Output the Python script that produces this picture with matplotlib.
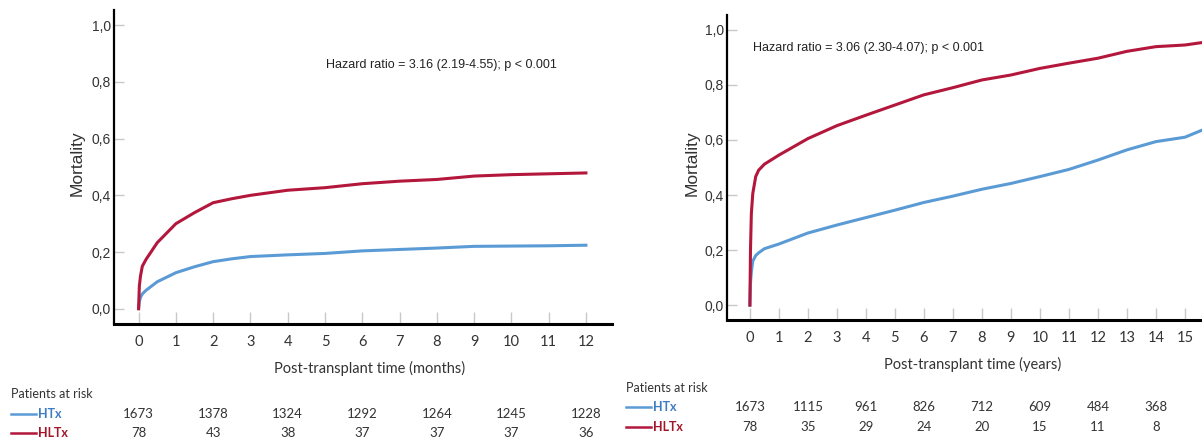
import matplotlib.pyplot as plt

W, H = 1202, 443

# months panel (first year)
months = [0, 0.02, 0.05, 0.1, 0.2, 0.5, 1, 1.5, 2, 2.5, 3, 4, 5, 6, 7, 8, 9, 10, 11, 12]
htx_month = [0, 0.025, 0.04, 0.052, 0.065, 0.095, 0.127, 0.148, 0.166, 0.176, 0.184, 0.19,
             0.195, 0.204, 0.209, 0.214, 0.22, 0.221, 0.222, 0.224]
hltx_month = [0, 0.08, 0.115, 0.15, 0.174, 0.233, 0.3, 0.339, 0.374, 0.388, 0.4, 0.418,
              0.427, 0.441, 0.45, 0.456, 0.468, 0.473, 0.476, 0.479]

# years panel
years = [0, 0.02, 0.05, 0.1, 0.2, 0.3, 0.5, 1, 1.5, 2, 3, 4, 5, 6, 7, 8, 9, 10, 11, 12,
         13, 14, 15, 15.6, 16]
htx_year = [0, 0.08, 0.12, 0.16, 0.18, 0.19, 0.205, 0.222, 0.242, 0.262, 0.291, 0.318, 0.345,
            0.373, 0.396, 0.421, 0.442, 0.467, 0.493, 0.527, 0.564, 0.594, 0.61, 0.636, 0.65]
hltx_year = [0, 0.2, 0.333, 0.406, 0.467, 0.49, 0.512, 0.545, 0.575, 0.605, 0.652, 0.69,
             0.727, 0.764, 0.79, 0.818, 0.836, 0.86, 0.879, 0.897, 0.922, 0.939, 0.945,
             0.954, 0.96]

risk_month_t = [0, 2, 4, 6, 8, 10, 12]
risk_month_htx = [1673, 1378, 1324, 1292, 1264, 1245, 1228]
risk_month_hltx = [78, 43, 38, 37, 37, 37, 36]

risk_year_t = [0, 2, 4, 6, 8, 10, 12, 14]
risk_year_htx = [1673, 1115, 961, 826, 712, 609, 484, 368]
risk_year_hltx = [78, 35, 29, 24, 20, 15, 11, 8]

hr_month = "Hazard ratio = 3.16 (2.19-4.55); p < 0.001"
hr_year = "Hazard ratio = 3.06 (2.30-4.07); p < 0.001"

BLUE = "#5b9bd5"
RED = "#b3173c"
BLUE_TXT = "#3d7cc4"
RED_TXT = "#a3162a"
ARIAL = "Liberation Sans"
CALIB = "Lato"


def fx(x):
    return x / W


def fy(y):
    return 1 - y / H


fig = plt.figure(figsize=(W / 100, H / 100), dpi=100)


def setup_axis(ax, xlim, xticks):
    ax.set_xlim(*xlim)
    ax.set_ylim(-0.054, 1.054)
    for s in ["top", "right"]:
        ax.spines[s].set_visible(False)
    ax.spines["left"].set_linewidth(1.6)
    ax.spines["bottom"].set_linewidth(2.2)
    ax.set_xticks(xticks)
    ax.set_yticks([0, 0.2, 0.4, 0.6, 0.8, 1.0])
    ax.set_yticklabels(["0,0", "0,2", "0,4", "0,6", "0,8", "1,0"])
    ax.tick_params(axis="y", direction="in", length=7, width=1, color="#c8c8c8",
                   pad=2, labelsize=10, labelcolor="#333333")
    ax.tick_params(axis="x", direction="in", length=9, width=1, color="#c8c8c8",
                   pad=8, labelsize=10.5, labelcolor="#333333")
    for lab in ax.get_yticklabels():
        lab.set_family(ARIAL)
    for lab in ax.get_xticklabels():
        lab.set_family(CALIB)


# left panel: months
ax1 = fig.add_axes([fx(114), fy(324), fx(612 - 114), (324 - 10) / H])
ax1.plot(months, htx_month, color=BLUE, lw=2.2)
ax1.plot(months, hltx_month, color=RED, lw=2.2)
setup_axis(ax1, (-0.66, 12.7), range(0, 13))

# right panel: years (runs past the right edge of the picture)
ax2 = fig.add_axes([fx(726.7), fy(320), fx(20.8 * 29), (320 - 15) / H])
ax2.plot(years, htx_year, color=BLUE, lw=2.2)
ax2.plot(years, hltx_year, color=RED, lw=2.2)
setup_axis(ax2, (-0.8, 20.0), range(0, 16))

# labels
fig.text(fx(77), fy(163), "Mortality", rotation=90, ha="center", va="center",
         fontsize=12.5, family=ARIAL, color="#333333")
fig.text(fx(692), fy(163), "Mortality", rotation=90, ha="center", va="center",
         fontsize=12.5, family=ARIAL, color="#333333")
fig.text(fx(370), fy(368), "Post-transplant time (months)", ha="center", va="center",
         fontsize=10.5, family=CALIB, color="#333333")
fig.text(fx(973), fy(364), "Post-transplant time (years)", ha="center", va="center",
         fontsize=10.5, family=CALIB, color="#333333")
fig.text(fx(326), fy(65), hr_month, ha="left", va="center", fontsize=9,
         family=ARIAL, color="#222222")
fig.text(fx(753), fy(48), hr_year, ha="left", va="center", fontsize=9,
         family=ARIAL, color="#222222")


# patients at risk tables
def risk_table(ax, x0, ys, t, htx, hltx):
    y_head, y_htx, y_hltx = ys
    fig.text(fx(x0), fy(y_head), "Patients at risk", ha="left", va="center",
             fontsize=9, family=CALIB, color="#333333")
    for y, name, c_line, c_txt in [(y_htx, "HTx", BLUE, BLUE_TXT),
                                   (y_hltx, "HLTx", RED, RED_TXT)]:
        fig.add_artist(plt.Line2D([fx(x0), fx(x0 + 25)], [fy(y), fy(y)],
                                  color=c_line, lw=1.8))
        fig.text(fx(x0 + 27), fy(y), name, ha="left", va="center", fontsize=9,
                 family=CALIB, color=c_txt, fontweight="bold")
    for ti, a, b in zip(t, htx, hltx):
        xd = ax.transData.transform((ti, 0))[0]
        fig.text(xd / W, fy(y_htx), str(a), ha="center", va="center",
                 fontsize=9.5, family=CALIB, color="#333333")
        fig.text(xd / W, fy(y_hltx), str(b), ha="center", va="center",
                 fontsize=9.5, family=CALIB, color="#333333")


risk_table(ax1, 11, (394, 414, 433), risk_month_t, risk_month_htx, risk_month_hltx)
risk_table(ax2, 626, (388, 407, 427), risk_year_t, risk_year_htx, risk_year_hltx)

fig.savefig("out.png", dpi=100)
